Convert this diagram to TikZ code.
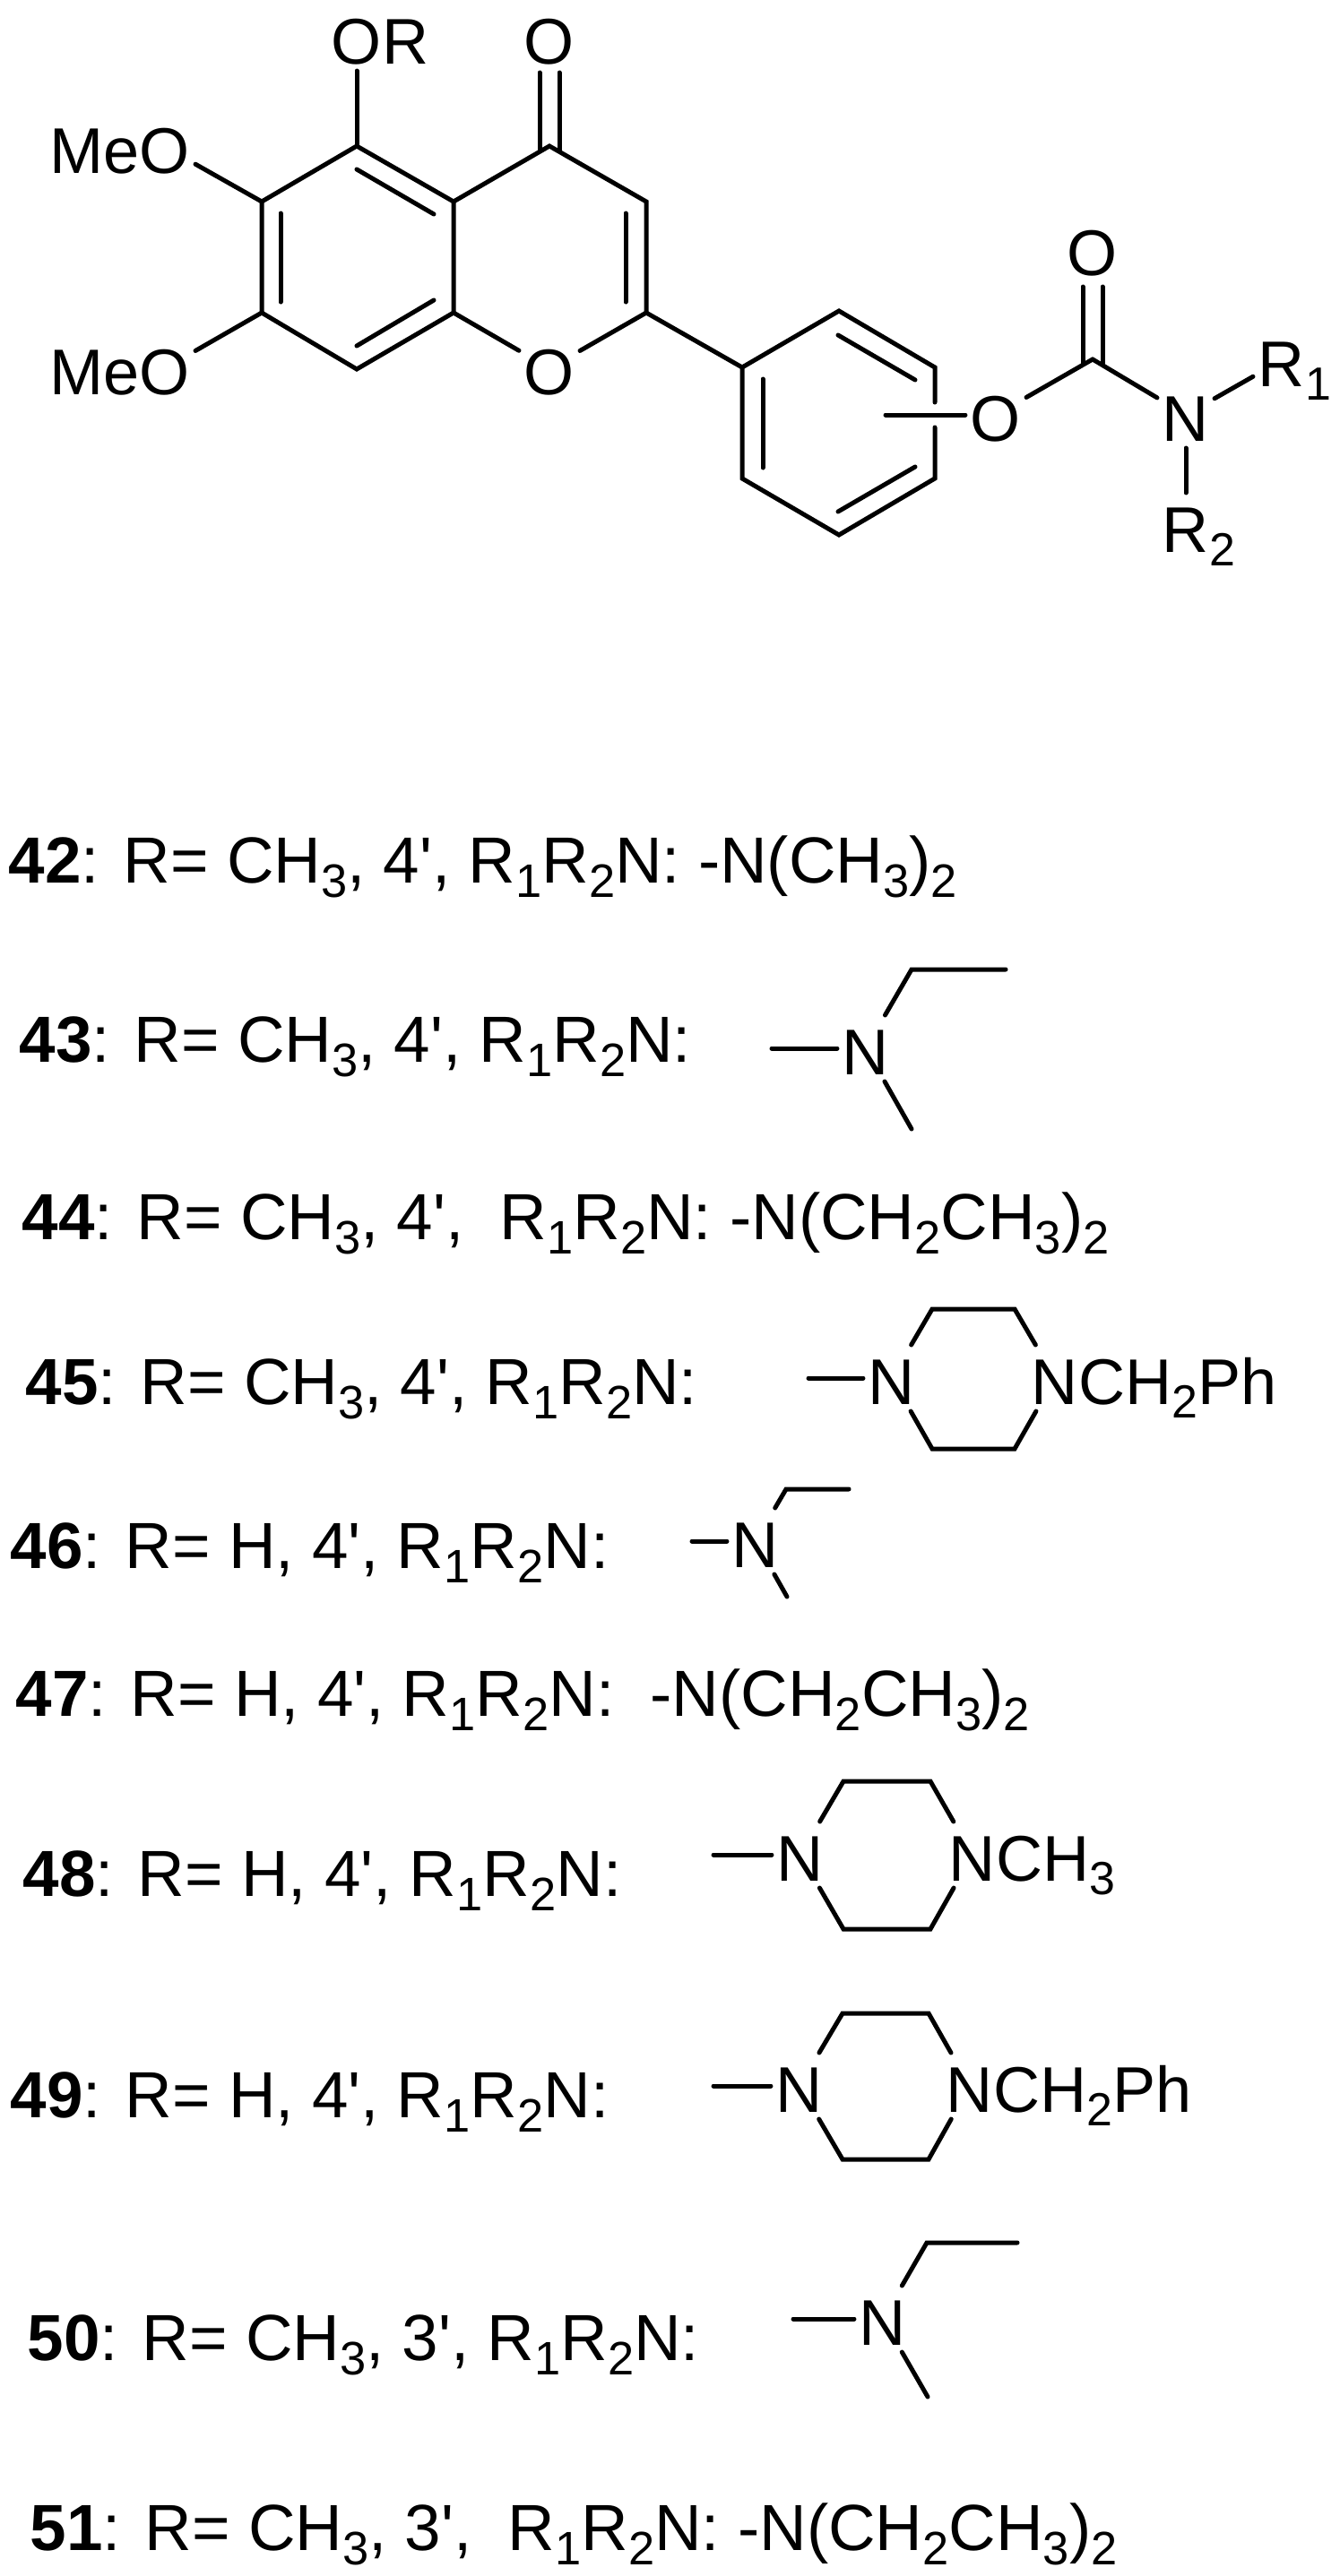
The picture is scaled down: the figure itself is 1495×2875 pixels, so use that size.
\documentclass[tikz,border=0pt]{standalone}
\usepackage{fontspec}
\usepackage{tikz}
\usetikzlibrary{positioning}
\usetikzlibrary{calc}
\newfontfamily\chemfont{Liberation Sans}
\newcommand{\sbs}[1]{\raisebox{-0.22em}{\scalebox{0.72}{#1}}}
\tikzset{
	bond/.style={line width=0.05cm,line cap=round,line join=miter},
	atom/.style={font=\chemfont\fontsize{20.5}{24}\selectfont,inner xsep=0.06cm,inner ysep=0.08cm,outer sep=0cm,text height=0.58cm,text depth=0cm},
	txt/.style={font=\chemfont\fontsize{20.5}{24}\selectfont,inner sep=0cm,anchor=base west},
	rowtxt/.style={font=\chemfont\fontsize{20.7}{24}\selectfont,inner sep=0cm,anchor=base west},
}
\begin{document}
\begin{tikzpicture}[x=0.01cm,y=-0.01cm]
	\useasboundingbox (0,0) rectangle (1495,2875);
	\fill[white] (0,0) rectangle (1495,2875);
	% flavone core
	\coordinate (c5) at (398,163);
	\coordinate (c6) at (292,225);
	\coordinate (c7) at (292,349);
	\coordinate (c8) at (398,412);
	\coordinate (c8a) at (506,349);
	\coordinate (c4a) at (506,225);
	\coordinate (c4) at (613,163);
	\coordinate (c3) at (721,225);
	\coordinate (c2) at (721,349);
	\node[atom] (o1) at (613,411) {O};
	\node[atom] (o4) at (613,42) {O};
	\node[atom] (o5) at (398,42) {O};
	\node[txt] (r5) at ($(o5.base east)+(-6,0)$) {R};
	\node[atom] (o6) at (184,164) {O};
	\node[txt,anchor=base east] (me6) at ($(o6.base west)+(6,0)$) {Me};
	\node[atom] (o7) at (184,411) {O};
	\node[txt,anchor=base east] (me7) at ($(o7.base west)+(6,0)$) {Me};
	\draw[bond] (c5) -- (c6) -- (c7) -- (c8) -- (c8a) -- (c4a) -- cycle;
	\draw[bond] (c4a) -- (c4) -- (c3) -- (c2);
	\draw[bond] (c8a) -- (o1);
	\draw[bond] (o1) -- (c2);
	\draw[bond] (c5) -- (o5);
	\draw[bond] (c6) -- (o6);
	\draw[bond] (c7) -- (o7);
	\coordinate (k1a) at (602,81);
	\coordinate (k1b) at (602,168);
	\coordinate (k2a) at (624,81);
	\coordinate (k2b) at (624,168);
	\draw[bond] (k1a) -- (k1b);
	\draw[bond] (k2a) -- (k2b);
	\coordinate (i1a) at (398,189);
	\coordinate (i1b) at (484,239);
	\coordinate (i2a) at (313,238);
	\coordinate (i2b) at (313,337);
	\coordinate (i3a) at (398,386);
	\coordinate (i3b) at (484,335);
	\coordinate (i4a) at (698,238);
	\coordinate (i4b) at (698,337);
	\draw[bond] (i1a) -- (i1b);
	\draw[bond] (i2a) -- (i2b);
	\draw[bond] (i3a) -- (i3b);
	\draw[bond] (i4a) -- (i4b);
	% phenyl ring
	\coordinate (p1) at (828,410);
	\coordinate (p2) at (936,347);
	\coordinate (p3) at (1043,410);
	\coordinate (p4) at (1043,534);
	\coordinate (p5) at (936,597);
	\coordinate (p6) at (828,534);
	\coordinate (g1) at (1043,449);
	\coordinate (g2) at (1043,477);
	\draw[bond] (c2) -- (p1);
	\draw[bond] (g1) -- (p3) -- (p2) -- (p1) -- (p6) -- (p5) -- (p4) -- (g2);
	\coordinate (i5a) at (851,423);
	\coordinate (i5b) at (851,522);
	\coordinate (i6a) at (935,374);
	\coordinate (i6b) at (1021,424);
	\coordinate (i7a) at (1021,521);
	\coordinate (i7b) at (935,571);
	\draw[bond] (i5a) -- (i5b);
	\draw[bond] (i6a) -- (i6b);
	\draw[bond] (i7a) -- (i7b);
	% carbamate
	\node[atom] (oe) at (1111,463) {O};
	\coordinate (cc) at (1219,401);
	\node[atom] (oc) at (1219,278) {O};
	\node[atom] (na) at (1323,463) {N};
	\node[atom] (r1) at (1430,402) {R};
	\node[txt] (r1s) at ($(r1.base east)+(-6,0)$) {\sbs{1}};
	\node[atom] (r2) at (1323,587) {R};
	\node[txt] (r2s) at ($(r2.base east)+(-6,0)$) {\sbs{2}};
	\coordinate (ph) at (988,463);
	\draw[bond] (ph) -- (oe);
	\draw[bond] (oe) -- (cc);
	\draw[bond] (cc) -- (na);
	\draw[bond] (na) -- (r1);
	\draw[bond] (na) -- (r2);
	\coordinate (k3a) at (1208,320);
	\coordinate (k3b) at (1208,406);
	\coordinate (k4a) at (1230,320);
	\coordinate (k4b) at (1230,406);
	\draw[bond] (k3a) -- (k3b);
	\draw[bond] (k4a) -- (k4b);
	% compound list
	\node[rowtxt] (l42) at (9,985) {\textbf{42}: R= CH\sbs{3}, 4', R\sbs{1}R\sbs{2}N: -N(CH\sbs{3})\sbs{2}};
	\node[rowtxt] (l43) at (21,1185) {\textbf{43}: R= CH\sbs{3}, 4', R\sbs{1}R\sbs{2}N:};
	\node[rowtxt] (l44) at (24,1383) {\textbf{44}: R= CH\sbs{3}, 4',\ \ R\sbs{1}R\sbs{2}N: -N(CH\sbs{2}CH\sbs{3})\sbs{2}};
	\node[rowtxt] (l45) at (28,1567) {\textbf{45}: R= CH\sbs{3}, 4', R\sbs{1}R\sbs{2}N:};
	\node[rowtxt] (l46) at (11,1750) {\textbf{46}: R= H, 4', R\sbs{1}R\sbs{2}N:};
	\node[rowtxt] (l47) at (17,1915) {\textbf{47}: R= H, 4', R\sbs{1}R\sbs{2}N:\ \ -N(CH\sbs{2}CH\sbs{3})\sbs{2}};
	\node[rowtxt] (l48) at (25,2116) {\textbf{48}: R= H, 4', R\sbs{1}R\sbs{2}N:};
	\node[rowtxt] (l49) at (11,2363) {\textbf{49}: R= H, 4', R\sbs{1}R\sbs{2}N:};
	\node[rowtxt] (l50) at (30,2634) {\textbf{50}: R= CH\sbs{3}, 3', R\sbs{1}R\sbs{2}N:};
	\node[rowtxt] (l51) at (33,2846) {\textbf{51}: R= CH\sbs{3}, 3',\ \ R\sbs{1}R\sbs{2}N: -N(CH\sbs{2}CH\sbs{3})\sbs{2}};
	% side chains
	\node[atom] (n43) at (966,1170) {N};
	\coordinate (a43) at (861,1170);
	\coordinate (b43) at (1017,1082);
	\coordinate (e43) at (1122,1082);
	\coordinate (m43) at (1017,1260);
	\draw[bond] (a43) -- (n43);
	\draw[bond] (n43) -- (b43) -- (e43);
	\draw[bond] (n43) -- (m43);
	\node[atom] (n45) at (995,1538) {N};
	\node[atom] (q45) at (1177,1538) {N};
	\node[txt] (t45) at ($(q45.base east)+(-6,0)$) {CH\sbs{2}Ph};
	\coordinate (a45) at (902,1538);
	\coordinate (u45a) at (1040,1461);
	\coordinate (u45b) at (1132,1461);
	\coordinate (v45a) at (1040,1617);
	\coordinate (v45b) at (1132,1617);
	\draw[bond] (a45) -- (n45);
	\draw[bond] (n45) -- (u45a) -- (u45b) -- (q45);
	\draw[bond] (n45) -- (v45a) -- (v45b) -- (q45);
	\node[atom] (n46) at (843,1720) {N};
	\coordinate (a46) at (772,1720);
	\coordinate (b46) at (877,1662);
	\coordinate (e46) at (947,1662);
	\coordinate (m46) at (878,1782);
	\draw[bond] (a46) -- (n46);
	\draw[bond] (n46) -- (b46) -- (e46);
	\draw[bond] (n46) -- (m46);
	\node[atom] (n48) at (893,2070) {N};
	\node[atom] (q48) at (1085,2070) {N};
	\node[txt] (t48) at ($(q48.base east)+(-6,0)$) {CH\sbs{3}};
	\coordinate (a48) at (796,2070);
	\coordinate (u48a) at (941,1988);
	\coordinate (u48b) at (1038,1988);
	\coordinate (v48a) at (941,2153);
	\coordinate (v48b) at (1038,2153);
	\draw[bond] (a48) -- (n48);
	\draw[bond] (n48) -- (u48a) -- (u48b) -- (q48);
	\draw[bond] (n48) -- (v48a) -- (v48b) -- (q48);
	\node[atom] (n49) at (892,2328) {N};
	\node[atom] (q49) at (1082,2328) {N};
	\node[txt] (t49) at ($(q49.base east)+(-6,0)$) {CH\sbs{2}Ph};
	\coordinate (a49) at (796,2328);
	\coordinate (u49a) at (940,2247);
	\coordinate (u49b) at (1036,2247);
	\coordinate (v49a) at (940,2410);
	\coordinate (v49b) at (1036,2410);
	\draw[bond] (a49) -- (n49);
	\draw[bond] (n49) -- (u49a) -- (u49b) -- (q49);
	\draw[bond] (n49) -- (v49a) -- (v49b) -- (q49);
	\node[atom] (n50) at (985,2588) {N};
	\coordinate (a50) at (885,2588);
	\coordinate (b50) at (1034,2503);
	\coordinate (e50) at (1135,2503);
	\coordinate (m50) at (1035,2675);
	\draw[bond] (a50) -- (n50);
	\draw[bond] (n50) -- (b50) -- (e50);
	\draw[bond] (n50) -- (m50);
\end{tikzpicture}
\end{document}
